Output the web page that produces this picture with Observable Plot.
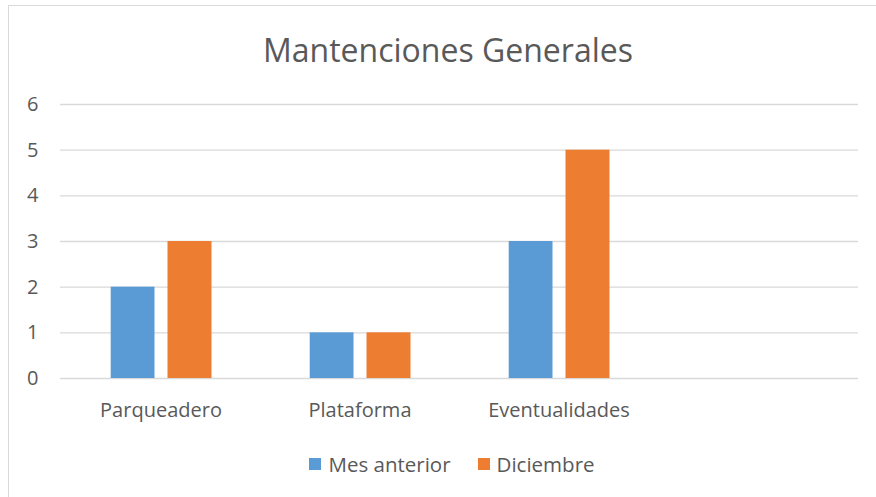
<!DOCTYPE html>
<html>
<head>
<meta charset="utf-8">
<script src="https://cdn.jsdelivr.net/npm/d3@7"></script>
<script src="https://cdn.jsdelivr.net/npm/@observablehq/plot@0.6"></script>
<style>
  html, body { margin: 0; padding: 0; background: #fff; overflow: hidden; }
  body { width: 876px; height: 497px; position: relative; font-family: "Open Sans", sans-serif; color: #595959; }
  #frame { position: absolute; left: 8px; top: 5px; width: 900px; height: 600px; border: 1px solid #d9d9d9; box-sizing: border-box; }
  #chart { position: absolute; left: 0; top: 0; width: 876px; }
  #title { height: 80px; box-sizing: border-box; padding-top: 30px; padding-left: 20px; text-align: center; font-size: 32px; line-height: 40px; white-space: nowrap; }
  #legend { margin-top: 12px; height: 24px; display: flex; justify-content: center; align-items: center; padding-left: 28px; font-size: 20.5px; line-height: 24px; }
  .item { display: flex; align-items: center; }
  .item + .item { margin-left: 27px; }
  .sw { width: 12px; height: 12px; margin-right: 7px; }
</style>
</head>
<body>
<div id="frame"></div>
<div id="chart">
  <div id="title">Mantenciones Generales</div>
  <div id="plot"></div>
  <div id="legend"></div>
</div>
<script>
const categories = ["Parqueadero", "Plataforma", "Eventualidades", ""];
const mesAnterior = [2, 1, 3, null];
const diciembre = [3, 1, 5, null];
const seriesNames = ["Mes anterior", "Diciembre"];
const seriesColors = ["#5b9bd5", "#ed7d31"];
const yTicks = [0, 1, 2, 3, 4, 5, 6];

const rowsA = categories.map((c, i) => ({cat: c, value: mesAnterior[i]}));
const rowsD = categories.map((c, i) => ({cat: c, value: diciembre[i]}));

const chart = Plot.plot({
  width: 876,
  height: 360,
  marginLeft: 60,
  marginRight: 18,
  marginTop: 24,
  marginBottom: 62,
  style: {fontFamily: "Open Sans", fontSize: "20px", color: "#595959", background: "transparent", overflow: "visible"},
  x: {domain: categories, padding: 0},
  y: {domain: [0, 6]},
  marks: [
    Plot.gridY(yTicks, {stroke: "#d9d9d9", strokeOpacity: 1, strokeWidth: 1.3}),
    Plot.barY(rowsA, {x: "cat", y: "value", fill: seriesColors[0], insetLeft: 49.7, insetRight: 105.5}),
    Plot.barY(rowsD, {x: "cat", y: "value", fill: seriesColors[1], insetLeft: 106.5, insetRight: 48.5}),
    Plot.axisY(yTicks, {tickSize: 0, tickPadding: 22, fontSize: 20, label: null}),
    Plot.axisX({tickSize: 0, tickPadding: 24, fontSize: 20, label: null})
  ]
});
document.getElementById("plot").appendChild(chart);

const legend = document.getElementById("legend");
seriesNames.forEach((name, i) => {
  const item = document.createElement("div");
  item.className = "item";
  const sw = document.createElement("div");
  sw.className = "sw";
  sw.style.background = seriesColors[i];
  const t = document.createElement("span");
  t.textContent = name;
  item.appendChild(sw);
  item.appendChild(t);
  legend.appendChild(item);
});
</script>
</body>
</html>
